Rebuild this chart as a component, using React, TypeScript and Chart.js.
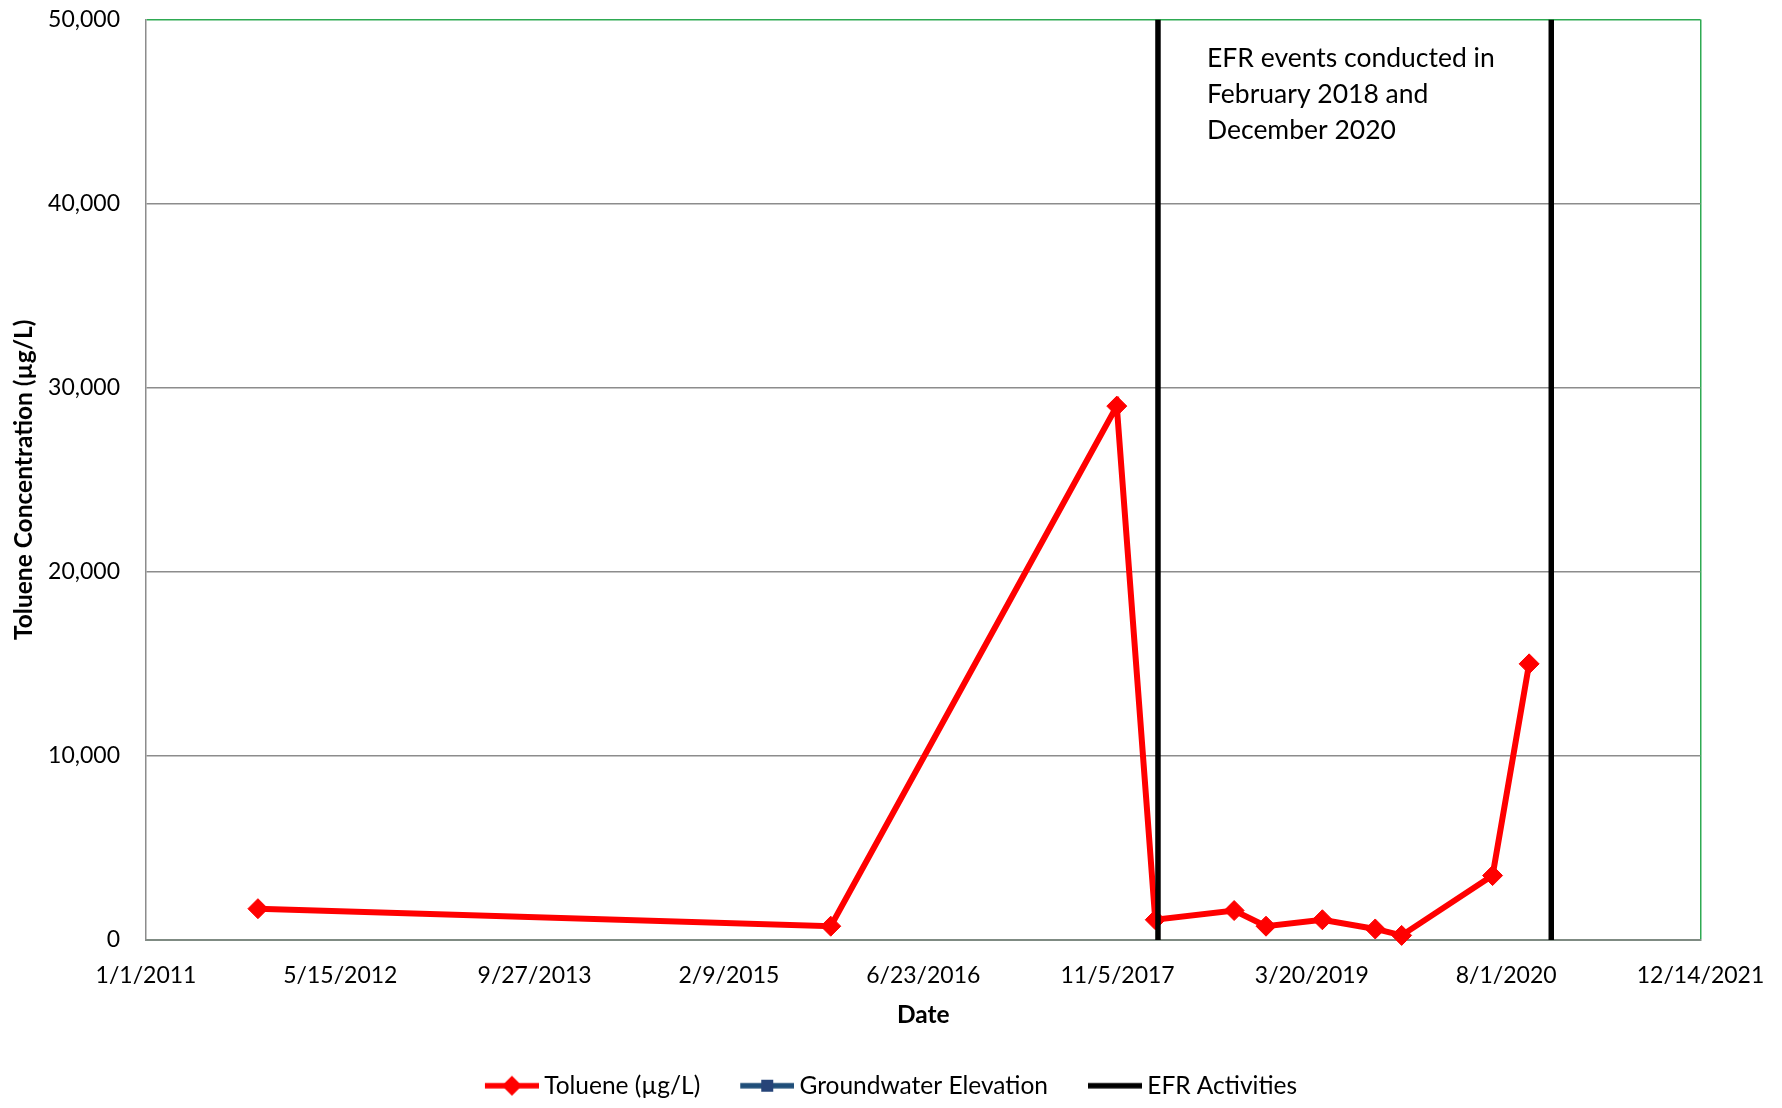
import React, { useEffect, useRef } from "react";
import { Chart, registerables } from "chart.js";

Chart.register(...registerables);

// ---- Data ----
const sampleDates = [
  "2011-10-16",
  "2015-10-29",
  "2017-11-03",
  "2018-02-10",
  "2018-09-01",
  "2018-11-22",
  "2019-04-16",
  "2019-08-30",
  "2019-11-06",
  "2020-06-27",
  "2020-09-29",
];
const tolueneValues = [1700, 750, 29000, 1100, 1600, 750, 1100, 600, 250, 3500, 15000];
const groundwaterDates: string[] = [];
const groundwaterValues: number[] = [];
const efrDates = ["2018-02-17", "2020-11-25"];
const efrRange = [0, 50000];
const yTickValues = [0, 10000, 20000, 30000, 40000, 50000];
const xAxisStart = "2011-01-01";
const xAxisEnd = "2021-12-14";
const xStepDays = 500;
const annotationLines = ["EFR events conducted in", "February 2018 and", "December 2020"];
const legendLabels = ["Toluene (µg/L)", "Groundwater Elevation", "EFR Activities"];
const xTitle = "Date";
const yTitle = "Toluene Concentration (µg/L)";

// ---- helpers ----
const EPOCH = Date.UTC(1899, 11, 30);
function toSerial(s: string): number {
  const [y, m, d] = s.split("-").map(Number);
  return Math.round((Date.UTC(y, m - 1, d) - EPOCH) / 86400000);
}
function serialLabel(v: number): string {
  const dt = new Date(EPOCH + Math.round(v) * 86400000);
  return `${dt.getUTCMonth() + 1}/${dt.getUTCDate()}/${dt.getUTCFullYear()}`;
}

const GREEN = "#2EAA52";
const GRID = "#8C8C8C";
const RED = "#FF0000";
const BLUE = "#1F4E79";
const FONT = "Lato, 'Open Sans', sans-serif";

function makeIcon(color: string, marker: "diamond" | "square" | "none"): HTMLCanvasElement {
  const c = document.createElement("canvas");
  c.width = 61;
  c.height = 24;
  const g = c.getContext("2d")!;
  g.strokeStyle = color;
  g.lineWidth = 5.5;
  g.beginPath();
  g.moveTo(7, 12);
  g.lineTo(61, 12);
  g.stroke();
  const cx = 34;
  if (marker === "diamond") {
    g.fillStyle = color;
    g.beginPath();
    g.moveTo(cx - 10, 12);
    g.lineTo(cx, 2);
    g.lineTo(cx + 10, 12);
    g.lineTo(cx, 22);
    g.closePath();
    g.fill();
  } else if (marker === "square") {
    g.fillStyle = "#264478";
    g.fillRect(cx - 6, 6, 12, 12);
  }
  return c;
}

export default function App() {
  const canvasRef = useRef<HTMLCanvasElement | null>(null);

  useEffect(() => {
    let chart: Chart | null = null;
    let cancelled = false;

    const build = () => {
      if (cancelled || !canvasRef.current) return;
      const xMin = toSerial(xAxisStart);
      const xMax = toSerial(xAxisEnd);

      const toluenePts = sampleDates.map((d, i) => ({ x: toSerial(d), y: tolueneValues[i] }));
      const gwPts = groundwaterDates.map((d, i) => ({ x: toSerial(d), y: groundwaterValues[i] }));
      const efrPts: { x: number; y: number | null }[] = [];
      efrDates.forEach((d) => {
        const s = toSerial(d);
        efrPts.push({ x: s, y: efrRange[0] });
        efrPts.push({ x: s, y: efrRange[1] });
        efrPts.push({ x: s, y: null });
      });

      const icons = [makeIcon(RED, "diamond"), makeIcon(BLUE, "square"), makeIcon("#000000", "none")];

      const annotationPlugin = {
        id: "efrNote",
        afterDraw(c: any) {
          const ctx = c.ctx;
          ctx.save();
          ctx.font = `26.5px ${FONT}`;
          ctx.fillStyle = "#000";
          ctx.textAlign = "left";
          ctx.textBaseline = "middle";
          annotationLines.forEach((t, i) => ctx.fillText(t, 1207, 58 + i * 36));
          ctx.restore();
        },
      };

      chart = new Chart(canvasRef.current, {
        type: "line",
        data: {
          datasets: [
            {
              label: legendLabels[0],
              data: toluenePts,
              borderColor: RED,
              backgroundColor: RED,
              borderWidth: 6,
              pointStyle: "rectRot",
              pointRadius: 10,
              pointBorderWidth: 1,
              pointBackgroundColor: RED,
              pointBorderColor: RED,
              tension: 0,
              clip: false as any,
              order: 1,
            },
            {
              label: legendLabels[1],
              data: gwPts,
              borderColor: BLUE,
              backgroundColor: "#264478",
              borderWidth: 5,
              pointStyle: "rect",
              pointRadius: 7,
              order: 2,
            },
            {
              label: legendLabels[2],
              data: efrPts as any,
              borderColor: "#000000",
              backgroundColor: "#000000",
              borderWidth: 5.5,
              pointRadius: 0,
              spanGaps: false,
              order: 0,
            },
          ],
        },
        options: {
          animation: false,
          responsive: false,
          maintainAspectRatio: false,
          events: [],
          layout: { padding: { top: 0, left: 0, right: 0, bottom: 0 } },
          plugins: {
            tooltip: { enabled: false },
            legend: {
              display: true,
              position: "bottom",
              labels: {
                usePointStyle: true,
                pointStyleWidth: 47,
                font: { family: FONT, size: 24.5 },
                color: "#000",
                padding: 40,
                generateLabels: () =>
                  legendLabels.map((t, i) => ({
                    text: t,
                    pointStyle: icons[i] as any,
                    datasetIndex: i,
                    fillStyle: "#000",
                    strokeStyle: "#000",
                    lineWidth: 0,
                    hidden: false,
                    fontColor: "#000",
                  })),
              },
            },
          },
          scales: {
            x: {
              type: "linear",
              position: "bottom",
              min: xMin,
              max: xMax,
              ticks: {
                stepSize: xStepDays,
                autoSkip: false,
                maxRotation: 0,
                padding: 22,
                color: "#000",
                font: { family: FONT, size: 23 },
                callback: (v: any) => serialLabel(Number(v)),
              },
              grid: {
                drawTicks: false,
                lineWidth: 1.5,
                color: (ctx: any) =>
                  ctx.tick && Math.abs(ctx.tick.value - xMax) < 0.5 ? GREEN : "rgba(0,0,0,0)",
              },
              border: { color: "#7F8B83", width: 2 },
              title: {
                display: true,
                text: xTitle,
                color: "#000",
                font: { family: FONT, size: 24.5, weight: "bold" },
                padding: { top: 0, bottom: 4 },
              },
              afterFit: (s: any) => {
                s.height = 93.5;
                s.paddingLeft = 0;
                s.paddingRight = 0;
              },
            },
            y: {
              type: "linear",
              position: "left",
              min: yTickValues[0],
              max: yTickValues[yTickValues.length - 1],
              afterBuildTicks: (s: any) => {
                s.ticks = yTickValues.map((v) => ({ value: v }));
              },
              ticks: {
                padding: 26,
                color: "#000",
                font: { family: FONT, size: 23 },
                callback: (v: any) => Number(v).toLocaleString("en-US"),
              },
              grid: {
                drawTicks: false,
                lineWidth: 1.5,
                color: (ctx: any) =>
                  ctx.tick && ctx.tick.value === yTickValues[yTickValues.length - 1] ? GREEN : GRID,
              },
              border: { color: GRID, width: 1.5 },
              title: {
                display: true,
                text: yTitle,
                color: "#000",
                font: { family: FONT, size: 24.5, weight: "bold" },
                padding: { top: 9, bottom: 0 },
              },
              afterFit: (s: any) => {
                s.width = 146;
                s.paddingTop = 19.5;
                s.paddingBottom = 0;
              },
            },
            yRight: {
              type: "linear",
              position: "right",
              display: true,
              ticks: { display: false },
              grid: { display: false, drawTicks: false },
              border: { display: false },
              afterFit: (s: any) => {
                s.width = 81.5;
                s.paddingTop = 0;
                s.paddingBottom = 0;
              },
            },
          },
        },
        plugins: [annotationPlugin],
      } as any);
    };

    const fontsReady = (document as any).fonts
      ? Promise.all([
          (document as any).fonts.load(`23px Lato`),
          (document as any).fonts.load(`bold 24px Lato`),
        ]).catch(() => null)
      : Promise.resolve(null);
    fontsReady.then(build);

    return () => {
      cancelled = true;
      if (chart) chart.destroy();
    };
  }, []);

  return (
    <div style={{ position: "absolute", left: 0, top: 0, width: 1782, height: 1108, background: "#fff" }}>
      <canvas ref={canvasRef} width={1782} height={1108} style={{ display: "block" }} />
    </div>
  );
}
